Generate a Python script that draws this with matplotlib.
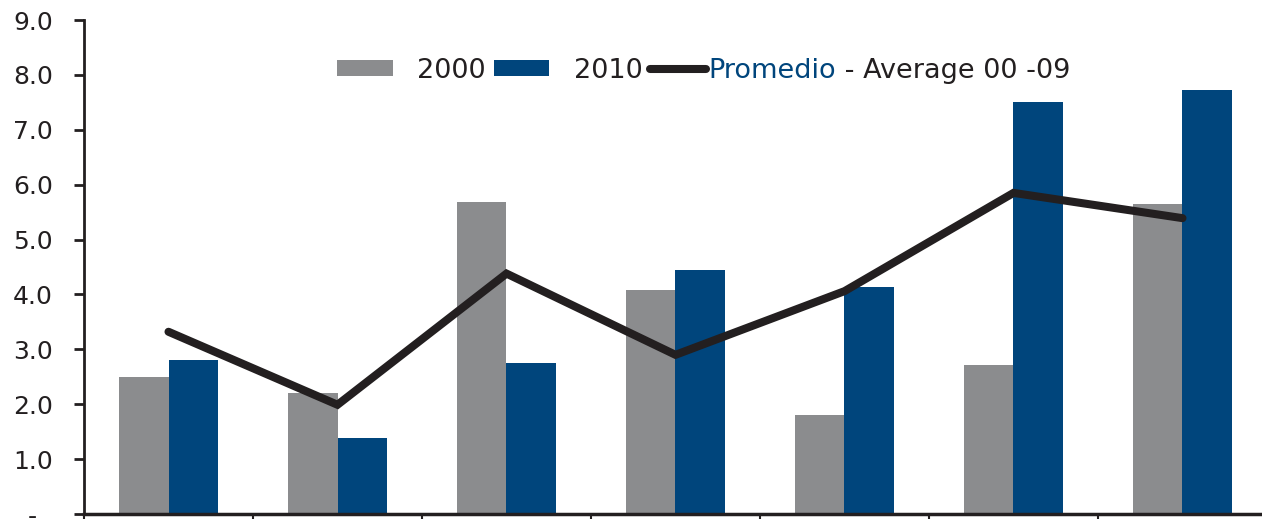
import matplotlib
matplotlib.use("Agg")
import matplotlib.pyplot as plt
import numpy as np

categories = ["A", "B", "C", "D", "E", "F", "G"]
values_2000 = [2.50, 2.21, 5.69, 4.09, 1.80, 2.72, 5.65]
values_2010 = [2.80, 1.39, 2.76, 4.45, 4.14, 7.50, 7.73]
promedio = [3.32, 1.99, 4.38, 2.90, 4.06, 5.85, 5.39]
ytick_vals = [0, 1, 2, 3, 4, 5, 6, 7, 8, 9]
ytick_labels = ["-  ", "1.0", "2.0", "3.0", "4.0", "5.0", "6.0", "7.0", "8.0", "9.0"]

GRAY = "#8b8c8e"
BLUE = "#00457c"
DARK = "#231f20"
LEGSIZE = 19.5

W, H = 1262, 519
fig = plt.figure(figsize=(W/100, H/100), dpi=100)
ax = fig.add_axes([84/W, 1 - 514/H, (1267-84)/W, (514-20)/H])

x = np.arange(len(categories))
w = 0.29
b1 = ax.bar(x - w/2, values_2000, width=w, color=GRAY, label="2000", zorder=2)
b2 = ax.bar(x + w/2, values_2010, width=w, color=BLUE, label="2010", zorder=2)
l1, = ax.plot(x, promedio, color=DARK, lw=5.8, solid_capstyle="round",
              solid_joinstyle="miter", label="Promedio", zorder=3)

ax.set_xlim(-0.5, len(categories) - 0.5)
ax.set_ylim(0, 9)
ax.set_yticks(ytick_vals)
ax.set_yticklabels(ytick_labels)
ax.set_xticks(np.arange(len(categories) + 1) - 0.5)
ax.set_xticklabels([])

for s in ["top", "right"]:
    ax.spines[s].set_visible(False)
ax.spines["left"].set_color(DARK)
ax.spines["left"].set_linewidth(2)
ax.spines["bottom"].set_color(DARK)
ax.spines["bottom"].set_linewidth(2.5)
ax.tick_params(axis="y", length=7.5, width=2, color=DARK, pad=15,
               labelsize=18, labelcolor=DARK)
ax.tick_params(axis="x", length=6, width=1.5, color=DARK, direction="out")

anchor = [337/W, 1 - 54/H]
leg = fig.legend(handles=[b1, b2, l1], labels=["2000", "2010", "Promedio"],
                 ncol=3, loc="upper left", bbox_to_anchor=anchor,
                 bbox_transform=fig.transFigure,
                 frameon=False, prop={"family": "DejaVu Sans", "size": LEGSIZE},
                 handlelength=2.05, handleheight=0.5,
                 handletextpad=0.9, columnspacing=0.3, borderaxespad=0,
                 borderpad=0)
texts = leg.get_texts()
for t in texts:
    t.set_color(DARK)
texts[2].set_color(BLUE)
texts[2].set_x(-22)

# align the legend so the first patch sits where the reference shows it
fig.canvas.draw()
pb = leg.legend_handles[0].get_window_extent()
dx = 337 - pb.x0
dy = (H - 68) - (pb.y0 + pb.y1) / 2
leg.set_bbox_to_anchor((anchor[0] + dx/W, anchor[1] + dy/H), transform=fig.transFigure)

fig.canvas.draw()
bb = texts[2].get_window_extent()
inv = fig.transFigure.inverted()
px, py = inv.transform((bb.x1, bb.y0))
fig.text(px, py, " - Average 00 -09", va="bottom", ha="left",
         family="DejaVu Sans", size=LEGSIZE, color=DARK)

fig.savefig("out.png", dpi=100)
